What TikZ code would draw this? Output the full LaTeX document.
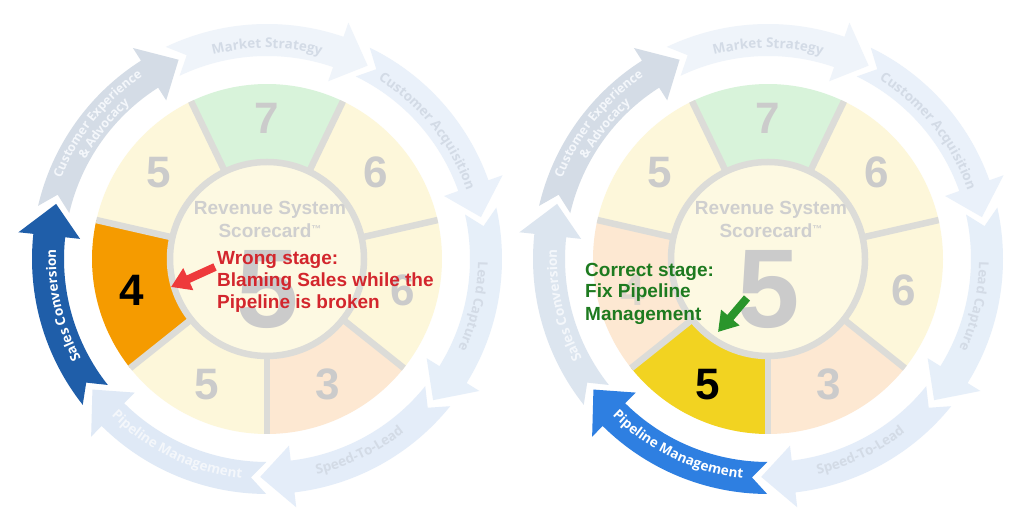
\documentclass[tikz,border=0pt]{standalone}
\usepackage{fontspec}
\setmainfont{Liberation Sans}
\newfontfamily\labfont{Open Sans}
\usetikzlibrary{decorations.text,arrows.meta}

\definecolor{segcream}{HTML}{FDF7DA}
\definecolor{seggreen}{HTML}{D8F3DA}
\definecolor{segpeach}{HTML}{FDE8D2}
\definecolor{segorange}{HTML}{F59B00}
\definecolor{segyellow}{HTML}{F2D321}
\definecolor{hubfill}{HTML}{FDF9E2}
\definecolor{sepgray}{HTML}{DCDCD8}
\definecolor{numgray}{HTML}{CBCBCB}
\definecolor{numpale}{HTML}{DDD6CC}
\definecolor{hubtext}{HTML}{CFCFCF}
\definecolor{msfill}{HTML}{EFF4FA}
\definecolor{cafill}{HTML}{EAF1FA}
\definecolor{lcfill}{HTML}{E6EFF9}
\definecolor{slfill}{HTML}{E4EDF9}
\definecolor{pmfill}{HTML}{DFE9F6}
\definecolor{scfill}{HTML}{DCE5EF}
\definecolor{cxfill}{HTML}{D4DCE6}
\definecolor{fadetext}{HTML}{D3DBE6}
\definecolor{softwhite}{HTML}{F4F7FB}
\definecolor{scdark}{HTML}{1F5EA9}
\definecolor{pmbright}{HTML}{2E7FE1}
\definecolor{wrongred}{HTML}{D3262D}
\definecolor{arrowred}{HTML}{EE3A3C}
\definecolor{rightgreen}{HTML}{1D7A1F}
\definecolor{arrowgreen}{HTML}{2A952B}

\tikzset{
  sepline/.style={draw=sepgray, line width=6.5pt},
  segnum/.style={font=\fontsize{44}{44}\selectfont\bfseries, inner sep=0pt},
  hubtxt/.style={font=\fontsize{19}{19}\selectfont\bfseries, text=hubtext, inner sep=0pt, anchor=base},
  bigfive/.style={font=\fontsize{112}{112}\selectfont\bfseries, text=numgray, inner sep=0pt, anchor=base},
  calltxt/.style={font=\fontsize{19}{19}\selectfont\bfseries, inner sep=0pt, anchor=base west},
}

% ring arrow centred on angle #1, colour #2
\newcommand\RingArrow[2]{%
  \fill[#2] ({#1+25.5}:235) arc[start angle={#1+25.5}, end angle={#1-19}, radius=235]
    -- ({#1-19}:250) -- ({#1-27.5}:218) -- ({#1-19}:188) -- ({#1-19}:203)
    arc[start angle={#1-19}, end angle={#1+25.5}, radius=203]
    -- ({#1+21.5}:219) -- cycle;}
% clockwise label: angle, radius, colour, size, text
\newcommand\LabCW[5]{%
  \path[decorate, decoration={text along path, text align=center, text color=#3,
    text={|\labfont\bfseries\fontsize{#4}{#4}\selectfont|#5}}]
    ({#1+45}:#2) arc[start angle={#1+45}, end angle={#1-45}, radius=#2];}
\newcommand\LabCCW[5]{%
  \path[decorate, decoration={text along path, text align=center, text color=#3,
    text={|\labfont\bfseries\fontsize{#4}{#4}\selectfont|#5}}]
    ({#1-45}:#2) arc[start angle={#1-45}, end angle={#1+45}, radius=#2];}
% wheel with seven segment colours (clockwise from top)
\newcommand\Wheel[7]{%
  \foreach \kk/\cc in {0/#1,1/#2,2/#3,3/#4,4/#5,5/#6,6/#7}{%
    \pgfmathsetmacro\ang{90-51.4286*\kk}%
    \fill[\cc] ({\ang+25.714}:97) arc[start angle={\ang+25.714}, end angle={\ang-25.714}, radius=97]
      -- ({\ang-25.714}:175) arc[start angle={\ang-25.714}, end angle={\ang+25.714}, radius=175] -- cycle;}%
  \foreach \kk in {0,...,6}{\pgfmathsetmacro\sepang{115.714-51.4286*\kk}%
    \draw[sepline] (\sepang:97) -- (\sepang:175);}%
  \fill[hubfill] (0,0) circle[radius=97];
  \draw[sepline] (0,0) circle[radius=97];}
\newcommand\TMark{{\fontsize{10}{10}\selectfont\raisebox{0.55em}{™}}}

\begin{document}
\begin{tikzpicture}[x=1pt,y=1pt]
\useasboundingbox (0,0) rectangle (1024,521);
\fill[white] (0,0) rectangle (1024,521);

% ================= LEFT =================
\begin{scope}[shift={(267,262)}]
  \Wheel{seggreen}{segcream}{segcream}{segpeach}{segcream}{segorange}{segcream}
  \node[segnum, text=numgray] (L7) at (90:141) {7};
  \node[segnum, text=numgray] (L6a) at (38.57:139) {6};
  \node[segnum, text=numgray] (L6b) at (-12.86:139) {6};
  \node[segnum, text=numgray] (L3) at (-64.29:139) {3};
  \node[segnum, text=numgray] (L5b) at (-115.71:139) {5};
  \node[segnum, text=black] (L4) at (-167.14:139) {4};
  \node[segnum, text=numgray] (L5a) at (141.43:139) {5};
  \node[hubtxt] (Lrev) at (3,44) {Revenue System};
  \node[hubtxt] (Lsc) at (3,21) {Scorecard\TMark};
  \node[bigfive] (Lbig) at (1,-69) {5};

  \RingArrow{90}{msfill}
  \RingArrow{38.57}{cafill}
  \RingArrow{-12.86}{lcfill}
  \RingArrow{-64.29}{slfill}
  \RingArrow{-115.71}{pmfill}
  \RingArrow{-167.14}{scdark}
  \RingArrow{-218.57}{cxfill}
  \LabCW{90}{211}{fadetext}{13.5}{Market Strategy}
  \LabCW{38.57}{211}{fadetext}{13.5}{Customer Acquisition}
  \LabCW{-12.86}{211}{fadetext}{13.5}{Lead Capture}
  \LabCCW{-64.29}{221}{fadetext}{13.5}{Speed-To-Lead}
  \LabCCW{-115.71}{221}{softwhite}{13.5}{Pipeline Management}
  \LabCW{192.86}{211}{white}{13.5}{Sales Conversion}
  \LabCW{141.43}{221}{softwhite}{12.5}{Customer Experience}
  \LabCW{141.43}{207}{softwhite}{12.5}{{\&} Advocacy}
\end{scope}

% ================= RIGHT =================
\begin{scope}[shift={(768,262)}]
  \Wheel{seggreen}{segcream}{segcream}{segpeach}{segyellow}{segpeach}{segcream}
  \node[segnum, text=numgray] (R7) at (90:141) {7};
  \node[segnum, text=numgray] (R6a) at (38.57:139) {6};
  \node[segnum, text=numgray] (R6b) at (-12.86:139) {6};
  \node[segnum, text=numgray] (R3) at (-64.29:139) {3};
  \node[segnum, text=black] (R5b) at (-115.71:139) {5};
  \node[segnum, text=numpale] (R4) at (-167.14:139) {4};
  \node[segnum, text=numgray] (R5a) at (141.43:139) {5};
  \node[hubtxt] (Rrev) at (3,44) {Revenue System};
  \node[hubtxt] (Rsc) at (3,21) {Scorecard\TMark};
  \node[bigfive] (Rbig) at (1,-69) {5};

  \RingArrow{90}{msfill}
  \RingArrow{38.57}{cafill}
  \RingArrow{-12.86}{lcfill}
  \RingArrow{-64.29}{slfill}
  \RingArrow{-115.71}{pmbright}
  \RingArrow{-167.14}{scfill}
  \RingArrow{-218.57}{cxfill}
  \LabCW{90}{211}{fadetext}{13.5}{Market Strategy}
  \LabCW{38.57}{211}{fadetext}{13.5}{Customer Acquisition}
  \LabCW{-12.86}{211}{fadetext}{13.5}{Lead Capture}
  \LabCCW{-64.29}{221}{fadetext}{13.5}{Speed-To-Lead}
  \LabCCW{-115.71}{221}{white}{13.5}{Pipeline Management}
  \LabCW{192.86}{211}{softwhite}{13.5}{Sales Conversion}
  \LabCW{141.43}{221}{softwhite}{12.5}{Customer Experience}
  \LabCW{141.43}{207}{softwhite}{12.5}{{\&} Advocacy}
\end{scope}

% ================= CALLOUTS =================
\node[calltxt, text=wrongred] (w1) at (217,256) {Wrong stage:};
\node[calltxt, text=wrongred] (w2) at (217,234.3) {Blaming Sales while the};
\node[calltxt, text=wrongred] (w3) at (217,212.7) {Pipeline is broken};
\coordinate (rtail) at (215,254);
\coordinate (rtip) at (171,234);
\draw[arrowred, line width=8pt, -{Triangle[length=19pt,width=23pt]}] (rtail) -- (rtip);

\node[calltxt, text=rightgreen] (g1) at (585,244.3) {Correct stage:};
\node[calltxt, text=rightgreen] (g2) at (585,223) {Fix Pipeline};
\node[calltxt, text=rightgreen] (g3) at (585,200.3) {Management};
\coordinate (gtail) at (747,223);
\coordinate (gtip) at (718,189);
\draw[arrowgreen, line width=8pt, -{Triangle[length=19pt,width=23pt]}] (gtail) -- (gtip);
\end{tikzpicture}
\end{document}
